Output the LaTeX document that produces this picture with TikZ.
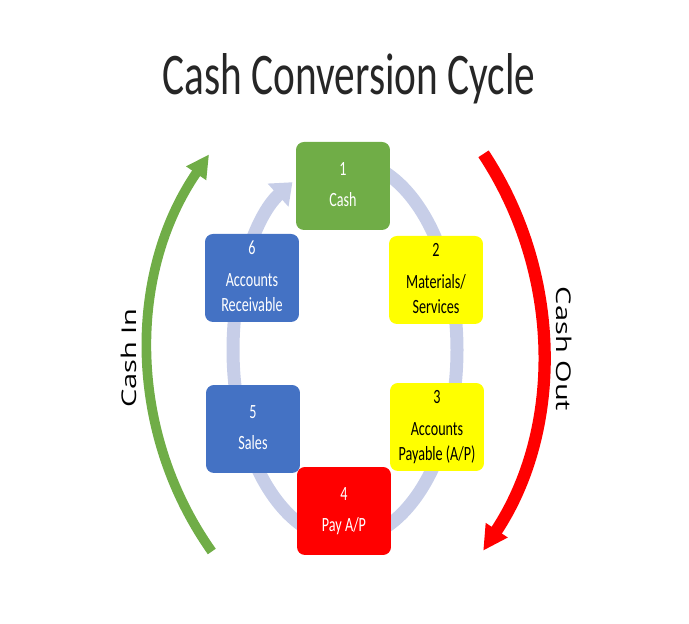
\documentclass[tikz,border=0pt]{standalone}
\usepackage{fontspec}
\setmainfont{Carlito}
\newfontfamily\sidefont{Open Sans}
\usetikzlibrary{arrows.meta}

\definecolor{cashgreen}{HTML}{70AD47}
\definecolor{stageblue}{HTML}{4472C4}
\definecolor{stageyellow}{HTML}{FFFF00}
\definecolor{stagered}{HTML}{FF0000}
\definecolor{ringblue}{HTML}{C7CEE8}
\definecolor{titlegray}{HTML}{262626}

% squeezed two-part text of a stage box
\newcommand{\stagetext}[2]{\scalebox{0.7}[1]{\begin{tabular}{@{}c@{}}#1\\[4pt]#2\end{tabular}}}

\tikzset{
  stagebox/.style={rectangle, rounded corners=4.5pt, minimum width=1.88cm, minimum height=1.76cm,
    inner sep=0pt, font=\fontsize{11.5}{14}\selectfont},
  sidelabel/.style={inner sep=0pt, font=\sidefont\fontsize{16.5}{20}\selectfont},
}

\begin{document}
\begin{tikzpicture}[x=0.02cm, y=0.02cm]
		\useasboundingbox (0,0) rectangle (689,624);
		% title
		\node[anchor=base, inner sep=0pt, text=titlegray, font=\fontsize{33.6}{40}\selectfont] (title) at (349, 529) {\scalebox{0.7}[1]{Cash Conversion Cycle}};
		% background cycle
		\coordinate (ring) at (345, 274);
		\draw[ringblue, line width=7.4pt, -{Triangle[length=11pt, width=17pt]}] ([shift={(90:112 and 190)}]ring) arc[start angle=90, end angle=-242, x radius=112, y radius=190];
		% stages
		\node[stagebox, fill=cashgreen, text=white] (cash) at (343, 438) {\stagetext{1}{Cash}};
		\node[stagebox, fill=stageyellow, text=black] (materials) at (436, 344) {\stagetext{2}{Materials/\\Services}};
		\node[stagebox, fill=stageyellow, text=black] (payable) at (437, 197) {\stagetext{3}{Accounts\\Payable (A/P)}};
		\node[stagebox, fill=stagered, text=white] (pay) at (344, 113) {\stagetext{4}{Pay A/P}};
		\node[stagebox, fill=stageblue, text=white] (sales) at (253, 195) {\stagetext{5}{Sales}};
		\node[stagebox, fill=stageblue, text=white] (receivable) at (252, 346) {\stagetext{6}{Accounts\\Receivable}};
		% cash in / cash out
		\coordinate (inctr) at (495, 273);
		\coordinate (outctr) at (183, 272);
		\draw[cashgreen, line width=5.5pt, -{Triangle[length=13pt, width=13pt]}] ([shift={(215.3:347)}]inctr) arc[start angle=215.3, end angle=145.5, radius=347];
		\draw[stagered, line width=7pt, -{Triangle[length=14pt, width=14pt]}] ([shift={(33.4:360)}]outctr) arc[start angle=33.4, end angle=-33.5, radius=360];
		\node[sidelabel, rotate=90] (cashin) at (129, 266) {\scalebox{1}[0.7]{Cash In}};
		\node[sidelabel, rotate=-90] (cashout) at (564, 275) {\scalebox{1}[0.7]{Cash Out}};
	\end{tikzpicture}
\end{document}
